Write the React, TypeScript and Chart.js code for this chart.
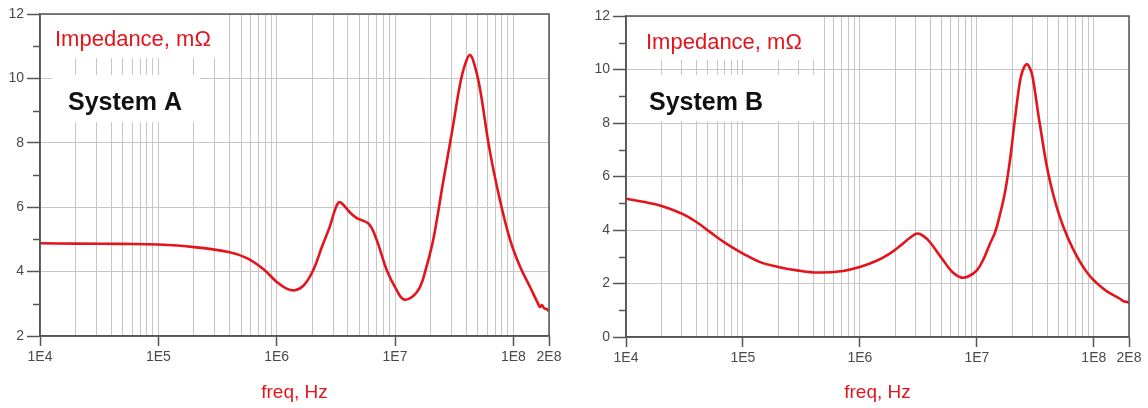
import React, { useEffect, useRef } from "react";
import { Chart, registerables } from "chart.js";

Chart.register(...registerables);

// Impedance sweep, System A (frequency in Hz, impedance in mΩ)
const freqA = [
  1e4, 2e4, 5e4, 1e5, 2e5, 4e5, 5.6e5, 7.7e5, 1e6, 1.2e6, 1.43e6, 1.7e6, 2.04e6,
  2.4e6, 2.8e6, 3.1e6, 3.35e6, 3.6e6, 4.2e6, 4.8e6, 6e6, 7e6, 8.5e6, 1.03e7,
  1.18e7, 1.4e7, 1.63e7, 1.83e7, 2.1e7, 2.55e7, 3.04e7, 3.55e7, 3.92e7, 4.31e7,
  4.75e7, 5.25e7, 6.3e7, 7.7e7, 9.4e7, 1.14e8, 1.38e8, 1.62e8, 1.68e8, 1.74e8,
  1.82e8, 1.9e8, 2e8,
];
const impA = [
  4.88, 4.87, 4.86, 4.84, 4.76, 4.6, 4.42, 4.08, 3.68, 3.48, 3.42, 3.58, 4.05,
  4.75, 5.38, 5.9, 6.15, 6.1, 5.82, 5.65, 5.48, 4.98, 4.05, 3.43,
  3.14, 3.22, 3.53, 4.11, 4.98, 6.78, 8.37, 9.83, 10.45, 10.73,
  10.35, 9.63, 7.78, 6.22, 4.98, 4.15, 3.53, 3.0, 2.9, 2.96,
  2.86, 2.84, 2.78,
];

// Impedance sweep, System B
const freqB = [
  1e4, 1.95e4, 3e4, 4e4, 5.2e4, 7.2e4, 1e5, 1.4e5, 2e5, 2.9e5, 4.4e5, 7.2e5, 1e6,
  1.39e6, 1.8e6, 2.2e6, 2.7e6, 3.1e6, 3.5e6, 3.96e6, 5.15e6, 6.2e6, 7.4e6, 8.5e6,
  1.0e7, 1.15e7, 1.29e7, 1.43e7, 1.57e7, 1.74e7, 1.92e7, 2.11e7, 2.33e7, 2.47e7,
  2.66e7, 2.84e7, 3.0e7, 3.45e7, 4.2e7, 5.5e7, 8.1e7, 1.2e8, 1.66e8, 1.8e8, 1.9e8,
  2e8,
];
const impB = [
  5.17, 4.92, 4.61, 4.3, 3.93, 3.49, 3.12, 2.8, 2.62, 2.49, 2.41, 2.47, 2.62,
  2.85, 3.12, 3.4, 3.72, 3.87, 3.77, 3.55, 2.87, 2.42, 2.22, 2.27,
  2.49, 2.95, 3.47, 3.91, 4.55, 5.41, 6.61, 8.1, 9.52, 9.97,
  10.2, 10.05, 9.72, 7.98, 5.86, 4.11, 2.62, 1.81, 1.44, 1.33, 1.32,
  1.27,
];

// Frequency axis: gridlines at every 1..9 × decade, labelled at the decades and the end
const xGridValues: number[] = [];
for (let e = 4; e <= 8; e++) {
  for (let k = 1; k <= 9; k++) {
    const v = k * Math.pow(10, e);
    if (v <= 2e8) xGridValues.push(v);
  }
}
const xLabelValues = [1e4, 1e5, 1e6, 1e7, 1e8, 2e8];
const xLabels = ["1E4", "1E5", "1E6", "1E7", "1E8", "2E8"];

const RED = "#e3141c";
const GRID = "#c6c6c6";
const AXIS = "#555555";
const FONT = "'Liberation Sans', Arial, sans-serif";
const W = 574;
const H = 408;

function xLabelFor(v: number): string {
  const i = xLabelValues.findIndex((m) => Math.abs(m - v) < m * 1e-9);
  return i >= 0 ? xLabels[i] : "";
}
function isXMajor(v: number): boolean {
  return xLabelFor(v) !== "";
}

type Rect = [number, number, number, number];
type PanelProps = {
  offset: number;
  freqs: number[];
  values: number[];
  yMin: number;
  yMax: number;
  name: string;
  area: { l: number; t: number; r: number; b: number };
  boxes: Rect[];
  impAt: [number, number];
  nameAt: [number, number];
};

function Panel(p: PanelProps) {
  const ref = useRef<HTMLCanvasElement>(null);

  useEffect(() => {
    const canvas = ref.current;
    if (!canvas) return;

    const yTickValues: number[] = [];
    for (let v = p.yMin; v <= p.yMax; v++) yTickValues.push(v);

    const deco = {
      id: "deco",
      beforeDatasetsDraw(chart: any) {
        const ctx = chart.ctx as CanvasRenderingContext2D;
        const ca = chart.chartArea;
        const y = chart.scales.y;
        ctx.save();
        // white label backgrounds over the grid
        ctx.fillStyle = "#ffffff";
        for (const b of p.boxes) ctx.fillRect(b[0], b[1], b[2], b[3]);
        // short minor ticks on the value axis
        ctx.strokeStyle = AXIS;
        ctx.lineWidth = 1.5;
        for (let v = p.yMin + 1; v < p.yMax; v += 2) {
          const py = Math.round(y.getPixelForValue(v)) + 0.5;
          ctx.beginPath();
          ctx.moveTo(ca.left - 7, py);
          ctx.lineTo(ca.left, py);
          ctx.stroke();
        }
        ctx.textBaseline = "alphabetic";
        ctx.textAlign = "left";
        ctx.fillStyle = RED;
        ctx.font = `22px ${FONT}`;
        ctx.fillText("Impedance, mΩ", p.impAt[0], p.impAt[1]);
        ctx.fillStyle = "#111111";
        ctx.font = `bold 25px ${FONT}`;
        ctx.fillText(p.name, p.nameAt[0], p.nameAt[1]);
        ctx.restore();
      },
      afterDatasetsDraw(chart: any) {
        const ctx = chart.ctx as CanvasRenderingContext2D;
        const ca = chart.chartArea;
        ctx.save();
        ctx.strokeStyle = AXIS;
        ctx.lineWidth = 1.5;
        ctx.strokeRect(ca.left, ca.top, ca.right - ca.left, ca.bottom - ca.top);
        ctx.restore();
      },
    };

    const chart = new Chart(canvas, {
      type: "line",
      data: {
        datasets: [
          {
            data: p.freqs.map((f, i) => ({ x: f, y: p.values[i] })),
            borderColor: RED,
            borderWidth: 2.6,
            pointRadius: 0,
            fill: false,
            tension: 0.4,
          },
        ],
      },
      options: {
        animation: false,
        responsive: false,
        maintainAspectRatio: false,
        layout: { padding: { left: 0, top: p.area.t, right: W - p.area.r, bottom: 0 } },
        plugins: { legend: { display: false }, tooltip: { enabled: false } },
        scales: {
          x: {
            type: "logarithmic",
            min: 1e4,
            max: 2e8,
            afterBuildTicks: (s: any) => {
              s.ticks = xGridValues.map((v) => ({ value: v }));
            },
            afterFit: (s: any) => {
              s.height = H - p.area.b;
            },
            ticks: {
              autoSkip: false,
              maxRotation: 0,
              minRotation: 0,
              padding: 3,
              color: "#4a4a4a",
              font: { size: 14, family: FONT },
              callback: (v: any) => xLabelFor(Number(v)),
            },
            grid: {
              color: GRID,
              lineWidth: 1,
              tickLength: 10,
              tickColor: (c: any) =>
                c.tick && isXMajor(c.tick.value) ? AXIS : "rgba(0,0,0,0)",
              tickWidth: 1.5,
            },
            border: { color: AXIS, width: 1.5 },
            title: {
              display: true,
              text: "freq, Hz",
              color: RED,
              font: { size: 19, family: FONT },
              padding: { top: 0, bottom: 4 },
            },
          },
          y: {
            type: "linear",
            min: p.yMin,
            max: p.yMax,
            afterBuildTicks: (s: any) => {
              s.ticks = yTickValues.map((v) => ({ value: v }));
            },
            afterFit: (s: any) => {
              s.width = p.area.l;
            },
            ticks: {
              autoSkip: false,
              padding: 3,
              color: "#4a4a4a",
              font: { size: 14, family: FONT },
              callback: (v: any) => (Number(v) % 2 === 0 ? String(v) : ""),
            },
            grid: {
              color: (c: any) =>
                c.tick && c.tick.value % 2 === 0 ? GRID : "rgba(0,0,0,0)",
              lineWidth: 1,
              tickLength: 13,
              tickColor: (c: any) =>
                c.tick && c.tick.value % 2 === 0 ? AXIS : "rgba(0,0,0,0)",
              tickWidth: 1.5,
            },
            border: { color: AXIS, width: 1.5 },
          },
        },
      } as any,
      plugins: [deco],
    });

    return () => chart.destroy();
  }, []);

  return (
    <canvas
      ref={ref}
      width={W}
      height={H}
      style={{ position: "absolute", left: p.offset, top: 0, width: W, height: H }}
    />
  );
}

export default function App() {
  return (
    <div
      style={{
        position: "fixed",
        left: 0,
        top: 0,
        width: 1148,
        height: 408,
        background: "#ffffff",
        overflow: "hidden",
      }}
    >
      <Panel
        offset={0}
        freqs={freqA}
        values={impA}
        yMin={2}
        yMax={12}
        name="System A"
        area={{ l: 40, t: 14, r: 549, b: 336 }}
        boxes={[
          [52, 15, 168, 43],
          [52, 75, 148, 47],
        ]}
        impAt={[55, 46]}
        nameAt={[68, 110]}
      />
      <Panel
        offset={574}
        freqs={freqB}
        values={impB}
        yMin={0}
        yMax={12}
        name="System B"
        area={{ l: 52, t: 16, r: 555, b: 337 }}
        boxes={[
          [64, 17, 180, 43],
          [64, 75, 180, 46],
        ]}
        impAt={[72, 49]}
        nameAt={[75, 110]}
      />
    </div>
  );
}
